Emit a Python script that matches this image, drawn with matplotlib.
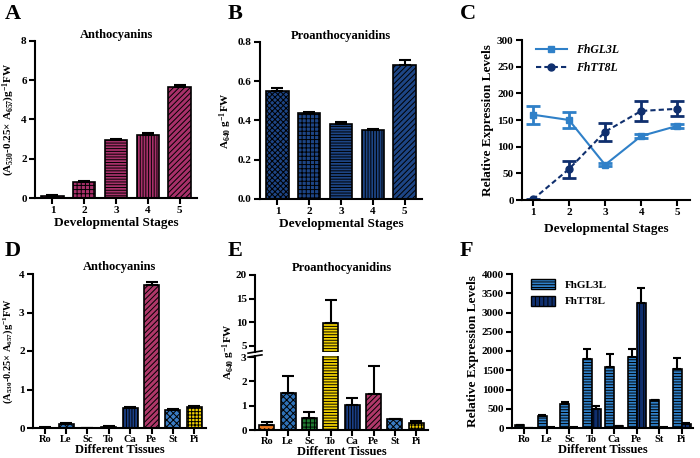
import numpy as np
import matplotlib
matplotlib.use("Agg")
import matplotlib.pyplot as plt
from matplotlib.patches import Patch
from matplotlib.lines import Line2D

plt.rcParams['font.family'] = ['Liberation Serif', 'DejaVu Serif']
plt.rcParams['font.weight'] = 'bold'
plt.rcParams['axes.labelweight'] = 'bold'
plt.rcParams['axes.titleweight'] = 'bold'
plt.rcParams['mathtext.fontset'] = 'custom'
plt.rcParams['mathtext.rm'] = 'Liberation Serif:bold'
plt.rcParams['mathtext.it'] = 'Liberation Serif:italic:bold'
plt.rcParams['mathtext.bf'] = 'Liberation Serif:bold'
plt.rcParams['mathtext.default'] = 'rm'
plt.rcParams['hatch.linewidth'] = 0.7

# ---- data ----
stages = ['1', '2', '3', '4', '5']
antho_stage = [0.12, 0.83, 2.96, 3.22, 5.64]
antho_stage_err = [0.03, 0.02, 0.04, 0.10, 0.14]
pa_stage = [0.551, 0.437, 0.381, 0.352, 0.682]
pa_stage_err = [0.017, 0.005, 0.012, 0.006, 0.027]
gl3l_stage = [160, 150, 66, 120, 139]
gl3l_stage_err = [17, 15, 3, 3, 4]
tt8l_stage = [1, 58, 128, 167, 171]
tt8l_stage_err = [1, 16, 17, 18, 14]

tissues = ['Ro', 'Le', 'Sc', 'To', 'Ca', 'Pe', 'St', 'Pi']
antho_tissue = [0.01, 0.11, 0.0, 0.03, 0.52, 3.72, 0.47, 0.55]
antho_tissue_err = [0.005, 0.02, 0.0, 0.01, 0.03, 0.06, 0.02, 0.02]
pa_tissue = [0.22, 1.52, 0.50, 9.9, 1.05, 1.48, 0.45, 0.27]
pa_tissue_err = [0.10, 0.70, 0.25, 4.9, 0.28, 1.17, 0.02, 0.12]
gl3l_tissue = [70, 320, 630, 1785, 1580, 1850, 715, 1535]
gl3l_tissue_err = [15, 30, 40, 275, 340, 190, 20, 290]
tt8l_tissue = [5, 12, 12, 485, 40, 3235, 10, 110]
tt8l_tissue_err = [2, 3, 3, 75, 5, 410, 3, 10]

maroon = '#a8306a'
navy = '#1d4585'
blue_gl = '#2f80c8'
navy_tt = '#0f2f6e'
stage_hatch = ['xxxxxx', '++++', '------', '||||||', '//////']
tissue_colors = ['#e8781e', '#2f72b8', '#1e7a30', '#f0d000',
                 '#1a3f86', '#b0386a', '#3a7cc4', '#f0d000']
tissue_hatch = ['....', 'xxxxx', '++++', '------', '||||||', '//////', 'xxxxx', '+++++']

W, H = 700, 458
fig = plt.figure(figsize=(7, 4.58), dpi=100)


def px_axes(l, t, r, b):
    return fig.add_axes([l / W, 1 - b / H, (r - l) / W, (b - t) / H])


def style(ax):
    for s in ['top', 'right']:
        ax.spines[s].set_visible(False)
    for s in ['left', 'bottom']:
        ax.spines[s].set_linewidth(1.5)
    ax.tick_params(width=1.5, length=4, labelsize=8, pad=2)


def bars(ax, x, vals, err, colors, hatches, width=0.7):
    bs = ax.bar(x, vals, width=width, color=colors, edgecolor='black', linewidth=1.2)
    for b, h in zip(bs, hatches):
        b.set_hatch(h)
    ax.errorbar(x, vals, yerr=[np.zeros(len(vals)), err], fmt='none',
                ecolor='black', elinewidth=1.5, capsize=4, capthick=1.5)


def letter(x, y, s):
    fig.text(x / W, 1 - y / H, s, fontsize=16, fontweight='bold', va='center', ha='left')


# ---- A ----
ax = px_axes(35, 41, 197, 198)
style(ax)
xs = np.arange(len(stages))
bars(ax, xs, antho_stage, antho_stage_err, [maroon] * 5, stage_hatch)
ax.set_xlim(-0.55, 4.55)
ax.set_ylim(0, 8)
ax.set_yticks([0, 2, 4, 6, 8])
ax.set_xticks(xs, stages)
ax.set_title('Anthocyanins', fontsize=9, pad=2)
ax.set_xlabel('Developmental Stages', fontsize=9.5, labelpad=1)
ax.set_ylabel('(A$_{530}$-0.25× A$_{657}$)g$^{-1}$FW', fontsize=8, labelpad=3)
letter(5, 14, 'A')

# ---- B ----
ax = px_axes(260, 42, 422, 199)
style(ax)
bars(ax, xs, pa_stage, pa_stage_err, [navy] * 5, stage_hatch)
ax.set_xlim(-0.55, 4.55)
ax.set_ylim(0, 0.8)
ax.set_yticks([0, 0.2, 0.4, 0.6, 0.8])
ax.set_yticklabels(['0.0', '0.2', '0.4', '0.6', '0.8'])
ax.set_xticks(xs, stages)
ax.set_title('Proanthocyanidins', fontsize=9, pad=2)
ax.set_xlabel('Developmental Stages', fontsize=9.5, labelpad=1)
ax.set_ylabel('A$_{640}$ g$^{-1}$FW', fontsize=8, labelpad=3)
letter(228, 14, 'B')

# ---- C ----
ax = px_axes(522, 40, 690, 200)
style(ax)
xc = np.arange(1, len(stages) + 1)
dash = (0, (2.5, 1.5))
ax.errorbar(xc, gl3l_stage, yerr=gl3l_stage_err, fmt='-s', color=blue_gl, ms=5,
            lw=1.5, elinewidth=2, capsize=5, capthick=2)
ax.errorbar(xc, tt8l_stage, yerr=tt8l_stage_err, fmt='o', ls=dash, color=navy_tt,
            ms=5, lw=1.5, elinewidth=2, capsize=5, capthick=2)
ax.set_xlim(0.7, 5.35)
ax.set_ylim(0, 300)
ax.set_yticks(range(0, 301, 50))
ax.set_xticks(xc, stages)
ax.set_xlabel('Developmental Stages', fontsize=9.5, labelpad=4)
ax.set_ylabel('Relative Expression Levels', fontsize=9.5, labelpad=2)
leg_c = [Line2D([], [], color=blue_gl, marker='s', ms=5, lw=1.5, label='FhGL3L'),
         Line2D([], [], color=navy_tt, marker='o', ms=5, lw=1.5, ls=dash, label='FhTT8L')]
ax.legend(handles=leg_c, loc='upper left', bbox_to_anchor=(0.02, 1.04), frameon=False,
          prop={'style': 'italic', 'weight': 'bold', 'size': 8.5}, handlelength=2.6,
          labelspacing=0.5)
letter(460, 14, 'C')

# ---- D ----
xt = np.arange(len(tissues))
ax = px_axes(33, 274, 206, 428)
style(ax)
bars(ax, xt, antho_tissue, antho_tissue_err, tissue_colors, tissue_hatch)
ax.set_xlim(-0.55, 7.55)
ax.set_ylim(0, 4)
ax.set_yticks([0, 1, 2, 3, 4])
ax.set_xticks(xt, tissues)
ax.tick_params(axis='x', labelsize=7.5, pad=1)
ax.set_title('Anthocyanins', fontsize=9, pad=3)
ax.set_xlabel('Different Tissues', fontsize=9, labelpad=0)
ax.set_ylabel('(A$_{530}$-0.25× A$_{657}$)g$^{-1}$FW', fontsize=7.5, labelpad=3)
letter(5, 251, 'D')

# ---- E (broken axis) ----
ax_t = px_axes(255, 275, 428, 352)
ax_b = px_axes(255, 356, 428, 430)
for a in (ax_t, ax_b):
    style(a)
    bars(a, xt, pa_tissue, pa_tissue_err, tissue_colors, tissue_hatch)
    a.set_xlim(-0.55, 7.55)
ax_t.set_ylim(3.7, 20)
ax_t.set_yticks([5, 10, 15, 20])
ax_t.spines['bottom'].set_visible(False)
ax_t.tick_params(axis='x', bottom=False, labelbottom=False)
ax_t.set_title('Proanthocyanidins', fontsize=9, pad=3)
ax_b.set_ylim(0, 3.05)
ax_b.set_yticks([0, 1, 2, 3])
ax_b.set_xticks(xt, tissues)
ax_b.tick_params(axis='x', labelsize=7.5, pad=1)
ax_b.set_xlabel('Different Tissues', fontsize=9, labelpad=0)
for a, yy in ((ax_t, 0.0), (ax_b, 1.0)):
    a.plot([-0.04, 0.04], [yy - 0.015, yy + 0.015], transform=a.transAxes,
           color='black', lw=1.2, clip_on=False)
fig.text(229 / W, 1 - 352 / H, 'A$_{640}$ g$^{-1}$FW', fontsize=8, rotation=90,
         ha='center', va='center')
letter(228, 251, 'E')

# ---- F ----
ax = px_axes(512, 274, 693, 428)
style(ax)
wf = 0.4
ax.bar(xt - wf / 2, gl3l_tissue, width=wf, color=blue_gl, edgecolor='black',
       linewidth=1.2, hatch='------')
ax.bar(xt + wf / 2, tt8l_tissue, width=wf, color=navy_tt, edgecolor='black',
       linewidth=1.2, hatch='||||')
ax.errorbar(xt - wf / 2, gl3l_tissue, yerr=[np.zeros(8), gl3l_tissue_err], fmt='none',
            ecolor='black', elinewidth=1.5, capsize=3, capthick=1.5)
ax.errorbar(xt + wf / 2, tt8l_tissue, yerr=[np.zeros(8), tt8l_tissue_err], fmt='none',
            ecolor='black', elinewidth=1.5, capsize=3, capthick=1.5)
ax.set_xlim(-0.55, 7.5)
ax.set_ylim(0, 4000)
ax.set_yticks(range(0, 4001, 500))
ax.set_xticks(xt, tissues)
ax.tick_params(axis='x', labelsize=7.5, pad=1)
ax.set_xlabel('Different Tissues', fontsize=9, labelpad=0)
ax.set_ylabel('Relative Expression Levels', fontsize=9.5, labelpad=2)
handles = [Patch(facecolor=blue_gl, edgecolor='black', hatch='------', label='FhGL3L'),
           Patch(facecolor=navy_tt, edgecolor='black', hatch='||||', label='FhTT8L')]
ax.legend(handles=handles, loc='upper left', bbox_to_anchor=(0.05, 1.03), frameon=False,
          prop={'weight': 'bold', 'size': 8}, handlelength=2.2, handleheight=1.0)
letter(460, 251, 'F')

fig.savefig('out.png', dpi=100)
